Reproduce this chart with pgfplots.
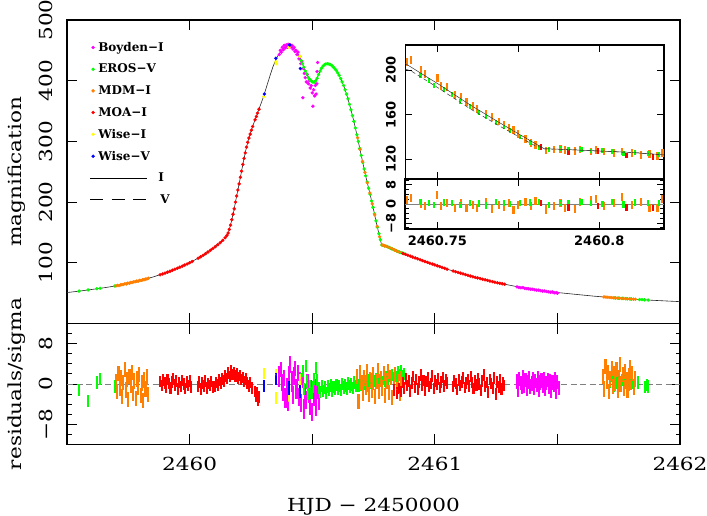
\documentclass[border=0pt]{standalone}
\usepackage{fontspec}
\setmainfont{DejaVu Serif}[FakeStretch=1.2]
\newfontfamily\legfont{DejaVu Serif}
\newfontfamily\insfont{DejaVu Sans}
\usepackage{pgfplots}
\usepackage{pgfplotstable}
\pgfplotsset{compat=1.18}

\definecolor{cmag}{RGB}{255,0,255}
\definecolor{cgrn}{RGB}{0,255,0}
\definecolor{corg}{RGB}{255,127,0}
\definecolor{cred}{RGB}{255,0,0}
\definecolor{cyel}{RGB}{255,255,0}
\definecolor{cblu}{RGB}{0,0,255}

\newcommand\tickfont{\fontsize{18bp}{21bp}\selectfont}
\newcommand\legf{\legfont\bfseries\fontsize{12bp}{14bp}\selectfont}
\newcommand\insf{\insfont\bfseries\fontsize{13bp}{15bp}\selectfont}

% x column = HJD - 2452460 (ticks relabelled as HJD - 2450000)
% ---------- model curves ----------
\pgfplotstableread{
d A
-0.50 51.0
-0.45 53.3
-0.40 56.0
-0.35 58.8
-0.30 62.0
-0.25 66.3
-0.20 71.0
-0.15 76.5
-0.10 83.0
-0.05 91.0
0.00 100.0
0.05 111.0
0.10 125.0
0.12 131.5
0.14 139.0
0.15 143.5
0.155 146
0.16 152
0.17 167
0.18 185
0.19 206
0.20 226
0.21 247
0.22 268
0.23 287
0.24 303
0.25 316
0.26 328
0.27 339
0.28 350
0.29 361
0.30 372
0.31 385
0.32 398
0.33 411
0.34 423
0.35 433
0.36 441
0.37 447
0.38 452
0.39 455.5
0.40 457
0.41 457.5
0.42 456
0.43 452
0.44 446
0.45 438
0.46 428
0.47 418
0.48 409
0.49 402
0.50 398
0.51 398
0.52 404
0.53 414
0.54 422
0.55 426.5
0.56 428
0.57 427.5
0.58 425
0.59 421
0.60 416
0.61 409
0.62 400
0.63 390
0.64 378
0.65 364
0.66 349
0.67 333
0.68 315
0.69 296
0.70 277
0.71 258
0.72 240
0.73 223
0.74 206
0.75 188
0.76 169
0.77 151.5
0.78 134.5
0.783 129.5
0.79 128.8
0.80 127.5
0.81 126.2
0.82 124
0.85 118.5
0.90 111
0.95 103.5
1.00 96.5
1.05 89.5
1.10 83.5
1.15 77.5
1.20 72.5
1.25 67.5
1.30 63.5
1.35 59.5
1.40 56.3
1.45 53.5
1.50 51
1.55 49
1.60 47
1.65 45
1.70 43.3
1.75 41.8
1.80 40.4
1.85 39.1
1.90 38
1.95 37
2.00 36
}\modelI
\pgfplotstableread{
d A
0.738 203
0.742 199
0.750 184.5
0.760 165.5
0.770 148.5
0.780 132.5
0.783 129.5
0.790 128.8
0.800 127.5
0.810 126.2
0.820 124
}\modelV

% ---------- light curve points ----------
\pgfplotstableread{
d A
0.366 443
0.370 450
0.374 447
0.378 455
0.382 451
0.386 458
0.390 454
0.394 459
0.398 455
0.402 460
0.406 456
0.410 459
0.414 455
0.418 458
0.422 452
0.426 455
0.430 448
0.434 450
0.438 443
0.442 447
0.446 436
0.450 440
0.454 428
0.458 432
0.462 372
0.464 420
0.468 412
0.472 405
0.476 398
0.480 410
0.484 395
0.488 400
0.492 388
0.496 392
0.500 380
0.503 358
0.506 385
0.510 375
0.513 392
0.516 378
0.519 395
0.520 415
0.522 430
1.335 60.3
1.343 59.5
1.351 58.8
1.359 59.2
1.367 58.0
1.375 57.6
1.383 57.2
1.391 56.5
1.399 56.4
1.407 55.6
1.415 55.0
1.423 54.9
1.431 54.2
1.439 53.5
1.447 53.6
1.455 52.8
1.463 52.2
1.471 51.5
1.479 51.9
1.487 50.6
1.495 50.8
1.500 50.0
}\boydenA
\pgfplotstableread{
d A
-0.451 53.5
-0.414 55.3
-0.378 57.3
-0.365 58.0
-0.305 61.8
0.455 433
0.460 428
0.466 422
0.472 416
0.478 411
0.484 405
0.490 402
0.496 399.5
0.502 398
0.508 397.5
0.514 400
0.520 404
0.526 410
0.532 416
0.538 420.5
0.544 424
0.550 426.5
0.556 427.5
0.562 428
0.568 427.6
0.574 426.5
0.580 425
0.586 422.5
0.592 420
0.598 417
0.604 413
0.610 409
0.616 403.5
0.622 398
0.628 392
0.634 385
0.640 378
0.646 370
0.652 361
0.658 352
0.664 342.5
0.670 333
0.676 322
0.682 311
0.688 300
0.694 288.5
0.700 277
0.706 265.5
0.712 254.5
0.718 243.5
0.724 233
0.730 223
0.736 213
0.742 202
0.748 191.5
0.754 180.5
0.760 169
0.766 158.5
0.772 148
0.778 138
0.784 129.4
0.790 128.8
0.796 128
0.802 127.2
0.808 126.3
0.814 125.2
0.820 124
0.826 122.9
0.832 121.8
0.838 120.7
0.844 119.6
0.850 118.5
0.856 117.6
0.862 116.7
0.868 115.8
0.874 114.9
1.735 42.1
1.750 41.8
1.765 41.4
1.780 40.9
1.800 40.4
1.835 39.5
1.845 39.2
1.855 39.0
1.870 38.6
}\erosA
\pgfplotstableread{
d A
-0.300 62.0
-0.294 62.8
-0.288 62.5
-0.282 63.6
-0.276 64.0
-0.270 64.3
-0.264 65.4
-0.258 65.2
-0.252 66.5
-0.246 66.4
-0.240 67.5
-0.234 67.6
-0.228 68.6
-0.222 68.7
-0.216 69.8
-0.210 69.6
-0.204 71.0
-0.198 70.9
-0.192 72.0
-0.186 72.1
-0.180 73.2
-0.174 73.4
-0.168 74.6
0.685 306
0.695 287
0.705 267
0.715 249
0.725 232
0.735 215
0.745 197
0.755 179
0.765 160
0.775 143
0.785 129.3
0.795 128
0.805 127
0.815 125
0.825 123
0.835 121
0.845 119.5
0.855 117.5
1.690 43.7
1.698 43.4
1.706 43.2
1.714 42.8
1.722 42.6
1.730 42.3
1.738 42.0
1.746 41.9
1.754 41.6
1.762 41.3
1.770 41.2
1.778 40.9
1.786 40.7
1.794 40.5
1.802 40.3
1.810 40.1
1.818 40.0
}\mdmA
\pgfplotstableread{
d A
-0.12 80.3
-0.11 81.6
-0.10 83.0
-0.09 84.5
-0.08 86.1
-0.07 87.8
-0.06 89.4
-0.05 91.0
-0.04 92.7
-0.03 94.5
-0.02 96.3
-0.01 98.1
0.00 100.0
0.01 102.1
0.035 107.5
0.045 109.8
0.055 112.3
0.065 115.0
0.075 117.8
0.085 120.7
0.095 123.6
0.105 126.6
0.115 129.8
0.125 133.3
0.135 137.0
0.145 141.2
0.152 145
0.157 149
0.162 155
0.167 162
0.172 171
0.177 180
0.182 189
0.187 200
0.192 210
0.197 220
0.202 230
0.207 241
0.212 251
0.217 262
0.222 272
0.227 281
0.232 290.5
0.237 298.5
0.242 305.5
0.247 312
0.252 318.5
0.257 324.5
0.267 335.5
0.272 341
0.277 346.5
0.283 353
0.87 115.5
0.88 114
0.89 112.5
0.90 111
0.91 109.5
0.92 108
0.93 106.5
0.94 105
0.95 103.5
0.96 102.1
0.97 100.7
0.98 99.3
0.99 97.9
1.00 96.5
1.01 95.1
1.02 93.7
1.03 92.3
1.04 90.9
1.05 89.5
1.075 86.5
1.085 85.3
1.095 84.1
1.105 82.9
1.115 81.7
1.125 80.5
1.135 79.3
1.145 78.1
1.155 77.0
1.165 76.0
1.175 75.0
1.185 74.0
1.195 73.0
1.205 72.0
1.215 71.0
1.225 70.0
1.235 69.0
1.245 68.0
1.255 67.1
1.265 66.3
1.275 65.5
1.285 64.7
}\moaA
\pgfplotstableread{
d A
0.303 374
0.352 431
0.354 428
0.405 455
0.450 440
}\wiseIA
\pgfplotstableread{
d A
0.305 378
0.352 437
0.408 459
0.452 420
}\wiseVA

% ---------- residuals / sigma ----------
\pgfplotstableread{
d r e
0.366 1.5 2.0
0.371 2.8 1.5
0.376 0.3 1.6
0.381 -1.5 1.8
0.386 1.2 1.6
0.391 -2.8 2.0
0.396 -0.6 1.7
0.401 -3.5 1.8
0.406 2.0 1.6
0.411 3.8 1.7
0.416 0.5 2.0
0.421 -2.2 1.8
0.426 1.6 1.7
0.431 3.0 1.5
0.436 -1.0 2.0
0.441 2.2 1.6
0.446 -2.5 1.8
0.451 0.8 1.6
0.456 -3.8 1.8
0.461 1.0 1.7
0.466 -5.0 2.0
0.471 -1.8 1.6
0.476 -3.2 1.8
0.481 0.5 1.5
0.486 -2.0 1.8
0.491 -4.2 1.9
0.496 -1.0 1.7
0.501 -5.5 1.8
0.506 -2.8 1.6
0.511 -0.8 1.7
0.516 -4.5 1.9
0.521 -1.5 1.5
0.526 -3.5 1.7
1.335 0.5 1.4
1.340 -1.2 1.4
1.345 1.0 1.4
1.350 0.2 1.4
1.355 -0.6 1.4
1.360 1.4 1.4
1.365 -0.3 1.4
1.370 0.8 1.4
1.375 -1.0 1.4
1.380 0.4 1.4
1.385 1.2 1.4
1.390 -0.5 1.4
1.395 0.1 1.4
1.400 0.9 1.4
1.405 -0.8 1.4
1.410 0.6 1.4
1.415 -0.2 1.4
1.420 1.1 1.4
1.425 -1.1 1.4
1.430 0.3 1.4
1.435 0.7 1.4
1.440 -0.4 1.4
1.445 1.0 1.4
1.450 -0.9 1.4
1.455 0.2 1.4
1.460 0.8 1.4
1.465 -0.6 1.4
1.470 0.5 1.4
1.475 -1.4 1.4
1.480 0.3 1.4
1.485 -0.2 1.4
1.490 0.9 1.4
1.495 -1.6 1.4
1.500 0.4 1.4
1.505 -0.8 1.4
}\boydenR
\pgfplotstableread{
d r
-0.451 -1.2
-0.415 -3.4
-0.378 0.3
-0.365 1.0
-0.305 -0.5
0.455 1.0
0.461 2.5
0.467 -1.0
0.473 3.5
0.479 0.5
0.485 -2.0
0.491 -0.5
0.497 -1.8
0.503 -0.6
0.509 1.0
0.515 3.2
0.521 0.8
0.527 -0.8
0.533 -1.6
0.539 -0.4
0.545 -1.3
0.551 -0.7
0.557 -1.8
0.563 -0.5
0.569 -1.1
0.575 -0.3
0.581 -1.4
0.587 -0.6
0.593 -1.0
0.599 -0.2
0.605 -0.9
0.611 -0.4
0.617 -1.2
0.623 0.0
0.629 -0.7
0.635 -0.3
0.641 -0.9
0.647 0.1
0.653 -0.5
0.659 -0.1
0.665 -0.8
0.671 0.3
0.677 -0.4
0.683 0.2
0.689 -0.3
0.695 0.4
0.701 -0.2
0.707 0.6
0.713 0.0
0.719 0.5
0.725 -0.3
0.731 0.7
0.737 0.2
0.743 0.9
0.749 0.1
0.755 0.6
0.761 1.0
0.767 0.3
0.773 0.8
0.779 1.2
0.785 0.4
0.791 1.1
0.797 0.6
0.803 1.4
0.809 0.9
0.815 1.6
0.821 1.0
0.827 1.8
0.833 1.2
0.839 2.0
0.845 1.4
0.851 2.3
0.857 1.7
0.863 2.5
0.869 1.5
0.875 1.9
1.715 0.5
1.722 1.6
1.729 -0.3
1.736 1.0
1.743 0.2
1.750 1.4
1.757 -0.4
1.764 0.8
1.771 1.7
1.778 0.3
1.785 1.1
1.792 -0.2
1.799 0.9
1.806 0.2
1.829 0.3
1.857 -0.6
1.864 -0.2
1.871 -0.5
}\erosR
\pgfplotstableread{
d r
-0.300 0.5
-0.295 -1.5
-0.290 2.0
-0.285 -0.8
-0.280 1.2
-0.275 -2.5
-0.270 0.3
-0.265 2.8
-0.260 -1.2
-0.255 0.9
-0.250 -3.0
-0.245 1.5
-0.240 -0.3
-0.235 2.2
-0.230 -1.8
-0.225 0.6
-0.220 -2.8
-0.215 1.0
-0.210 -0.6
-0.205 1.8
-0.200 -2.2
-0.195 0.2
-0.190 -3.3
-0.185 0.8
-0.180 -1.0
-0.175 1.4
-0.170 -2.0
0.683 1.5
0.689 -3.5
0.695 2.2
0.701 0.3
0.707 -1.8
0.713 1.2
0.719 -0.6
0.725 2.5
0.731 -2.0
0.737 0.8
0.743 -1.2
0.749 1.8
0.755 -2.4
0.761 0.5
0.767 2.6
0.773 -1.5
0.779 1.0
0.785 -0.8
0.791 2.0
0.797 -2.2
0.803 0.6
0.809 2.4
0.815 -1.6
0.821 1.3
0.827 -2.6
0.833 0.9
0.839 1.9
0.845 -1.1
0.851 0.4
0.857 -1.9
0.863 1.1
1.686 1.5
1.691 -1.0
1.696 3.5
1.701 0.5
1.706 2.2
1.711 -1.5
1.716 1.0
1.721 3.0
1.726 -0.5
1.731 2.0
1.736 0.2
1.741 2.8
1.746 -1.2
1.751 1.2
1.756 3.8
1.761 0.0
1.766 1.8
1.771 -0.8
1.776 2.5
1.781 0.8
1.786 -1.3
1.791 1.6
1.796 3.2
1.801 0.4
1.806 2.0
1.811 -0.6
1.816 1.0
}\mdmR
\pgfplotstableread{
d r
-0.120 0.5
-0.114 -0.3
-0.108 0.8
-0.102 0.2
-0.096 -0.6
-0.090 0.9
-0.084 0.1
-0.078 -0.8
-0.072 0.4
-0.066 1.0
-0.060 -0.2
-0.054 0.6
-0.048 -1.0
-0.042 0.3
-0.036 -0.5
-0.030 0.7
-0.024 0.0
-0.018 -0.9
-0.012 0.4
-0.006 -0.3
0.000 0.6
0.006 -0.6
0.034 -0.5
0.040 0.4
0.046 -1.0
0.052 0.2
0.058 -0.4
0.064 0.6
0.070 -0.8
0.076 0.1
0.082 -0.3
0.088 0.5
0.094 -0.6
0.103 -0.5
0.109 0.3
0.115 -0.2
0.121 0.8
0.127 0.2
0.133 1.0
0.139 0.6
0.145 1.6
0.151 1.1
0.157 2.2
0.163 1.5
0.169 2.6
0.175 1.9
0.181 2.3
0.187 1.6
0.193 2.0
0.199 1.2
0.205 1.7
0.211 0.9
0.217 1.3
0.223 0.5
0.229 1.0
0.235 0.2
0.241 -0.4
0.247 0.3
0.253 -0.8
0.267 -1.5
0.271 -2.4
0.275 -1.8
0.279 -3.2
0.283 -2.6
0.835 -1.2
0.845 -1.8
0.855 -0.9
0.862 -1.5
0.870 0.3
0.876 -0.8
0.882 1.1
0.888 -0.3
0.894 0.6
0.900 -1.4
0.906 0.2
0.912 1.5
0.918 -0.6
0.924 0.9
0.930 -1.0
0.936 0.4
0.942 1.8
0.948 -0.2
0.954 0.7
0.960 -1.2
0.966 0.5
0.972 1.2
0.978 -0.5
0.984 0.1
0.990 1.6
0.996 -0.9
1.002 0.6
1.008 -0.1
1.014 1.0
1.020 -0.7
1.026 0.4
1.032 1.3
1.038 -0.4
1.044 0.8
1.050 0.2
1.074 -0.5
1.080 0.6
1.086 0.1
1.092 -1.1
1.098 0.8
1.104 -0.3
1.110 0.4
1.116 1.2
1.122 -0.7
1.128 0.2
1.134 0.9
1.140 -0.4
1.146 1.5
1.152 0.3
1.158 -0.9
1.164 0.7
1.170 -0.2
1.176 1.1
1.182 0.0
1.188 -1.3
1.194 0.6
1.200 1.8
1.206 -0.5
1.212 0.3
1.218 -1.6
1.224 0.9
1.230 0.1
1.236 -0.8
1.242 1.2
1.248 -2.0
1.254 0.4
1.260 -0.6
1.266 0.8
1.272 -1.0
1.278 0.2
1.284 -0.3
}\moaR
\pgfplotstableread{
d r e
0.303 2.0 1.1
0.352 1.8 1.2
0.354 -2.8 1.2
0.405 -2.6 0.9
0.450 0.8 1.2
}\wiseIR
\pgfplotstableread{
d r e
0.305 -0.4 1.15
0.352 1.0 1.2
0.405 -0.8 1.4
0.450 -1.5 1.3
}\wiseVR

% ---------- inset (zoom on caustic exit) ----------
\pgfplotstableread{
d A e r
0.7405 207.5 3.5 1.5
0.7418 209 3.5 2.5
0.7450 200 3.5 0.0
0.7462 196.5 3.5 -1.0
0.7500 193 3.8 3.8
0.7512 186 3.5 -0.8
0.7530 184.5 3.5 0.5
0.7555 178 3.5 -1.5
0.7572 176 3.5 0.2
0.7590 171.5 3.5 -1.8
0.7610 167.5 3.5 -0.5
0.7622 165 3.5 -1.5
0.7650 161 3.5 1.0
0.7668 158 3.5 -2.0
0.7690 154 3.5 -0.5
0.7705 151 3.5 -1.2
0.7722 148.5 3.5 0.6
0.7735 146 3.5 -2.5
0.7750 142.5 3.5 -0.5
0.7772 138.5 3.5 0.8
0.7790 135 3.5 -1.0
0.7803 133 3.5 1.2
0.7835 128 3.5 -2.3
0.7860 128.8 3.5 -0.8
0.7880 129.5 3.5 0.5
0.7895 128.5 3.5 -1.5
0.7925 127.5 3.5 -2.0
0.7940 128.8 3.5 0.8
0.7975 127 3.5 1.5
0.7990 128.5 3.5 2.2
0.8015 127 3.5 -1.0
0.8045 126 3.5 0.6
0.8070 127 3.5 2.8
0.8100 126 3.5 -0.5
0.8130 124 3.5 1.0
0.8155 125 3.5 -1.8
0.8180 123 3.5 -1.5
0.8195 125.5 3.5 2.0
}\mdmZ
\pgfplotstableread{
d A r
0.7448 195.5 0.8
0.7475 191 0.5
0.7490 186 -0.5
0.7520 182.5 0.6
0.7545 178 0.3
0.7570 172 -0.4
0.7600 167 0.5
0.7628 162 0.2
0.7650 158.5 -0.6
0.7680 153 0.7
0.7705 149 0.3
0.7725 145.5 0.0
0.7755 140 0.4
0.7785 135 0.6
0.7815 131 0.8
0.7845 129 -0.3
0.7878 129.5 0.5
0.7905 128.5 0.2
0.7945 129 1.0
0.7975 127.5 0.4
0.8010 128 0.0
0.8040 127 0.9
0.8075 125.5 -0.2
0.8110 126.5 0.6
0.8150 125 0.3
0.8185 124 0.5
}\erosZ
\pgfplotstableread{
d A r
0.7820 131 0.5
0.7905 126 -1.5
0.7997 127.5 -1.0
0.8084 123.5 -1.5
0.8167 122 -1.8
}\moaZ

\pgfplotsset{
  frame/.style={scale only axis, anchor=south west,
    axis line style={line width=1.1bp}, tick align=inside,
    every tick/.style={black, line width=0.9bp},
    /pgf/number format/assume math mode=true},
  big/.style={frame, width=613bp, xmin=-0.5, xmax=2,
    major tick length=10bp, minor tick length=4.5bp,
    tick label style={font=\tickfont}, label style={font=\tickfont},
    yticklabel style={rotate=90, anchor=south, inner sep=0pt},
    yticklabel shift=14bp},
  dots/.style={only marks, mark=*, mark size=1.5bp, forget plot, #1, mark options={draw=#1, fill=#1}},
  bars/.style={only marks, mark=*, mark size=0.2bp, forget plot, #1,
    error bars/.cd, y dir=both, y explicit, error mark=none,
    error bar style={line width=2.1bp, #1}},
  zbars/.style={only marks, mark=*, mark size=0.3bp, forget plot, #1,
    error bars/.cd, y dir=both, y explicit, error mark=none,
    error bar style={line width=2.2bp, #1}},
  small/.style={frame, width=259bp, xmin=0.74, xmax=0.82,
    major tick length=7bp, minor tick length=3.5bp,
    axis background/.style={fill=white},
    tick label style={font=\insf},
    yticklabel style={rotate=90, anchor=south, inner sep=0pt},
    yticklabel shift=9bp,
    xtick={0.75,0.775,0.8}},
}

\begin{document}
\begin{tikzpicture}
\useasboundingbox (0,0) rectangle (707bp,516bp);

% main light curve
\begin{axis}[big, at={(67bp,192.5bp)}, height=303.5bp,
  ymin=0, ymax=500,
  xtick={0,0.5,1,1.5}, xticklabels={},
  ytick={100,200,300,400,500}, yticklabels={100,200,300,400,500},
  ylabel={magnification},
  ylabel style={at={(axis description cs:-0.0816,0.5)}, anchor=center},
  legend style={at={(axis description cs:0.0395,0.931)}, anchor=north west,
    draw=none, fill=none, inner sep=0pt, font=\legf, row sep=9.3bp,
    nodes={inner sep=1bp},
    /tikz/every odd column/.append style={column sep=2.5bp}},
  legend cell align=left]
\addplot[dots=cmag] table[x=d, y=A] {\boydenA};
\addplot[dots=cgrn] table[x=d, y=A] {\erosA};
\addplot[dots=corg] table[x=d, y=A] {\mdmA};
\addplot[dots=cred] table[x=d, y=A] {\moaA};
\addplot[dots=cyel] table[x=d, y=A] {\wiseIA};
\addplot[dots=cblu] table[x=d, y=A] {\wiseVA};
\addplot[black!85, line width=0.6bp, forget plot] table[x=d, y=A] {\modelI};
\addlegendimage{legend image code/.code={\fill[cmag] (0,0) circle (1.5bp);}}
\addlegendentry{Boyden−I}
\addlegendimage{legend image code/.code={\fill[cgrn] (0,0) circle (1.5bp);}}
\addlegendentry{EROS−V}
\addlegendimage{legend image code/.code={\fill[corg] (0,0) circle (1.5bp);}}
\addlegendentry{MDM−I}
\addlegendimage{legend image code/.code={\fill[cred] (0,0) circle (1.5bp);}}
\addlegendentry{MOA−I}
\addlegendimage{legend image code/.code={\fill[cyel] (0,0) circle (1.5bp);}}
\addlegendentry{Wise−I}
\addlegendimage{legend image code/.code={\fill[cblu] (0,0) circle (1.5bp);}}
\addlegendentry{Wise−V}
\addlegendimage{legend image code/.code={\draw[overlay, line width=0.7bp] (-3bp,0) -- (54bp,0);}}
\addlegendentry{\hspace{60bp}I}
\addlegendimage{legend image code/.code={\draw[overlay, line width=0.7bp, dash pattern=on 13bp off 8.5bp] (-3bp,0) -- (54bp,0);}}
\addlegendentry{\hspace{62bp}V}
\end{axis}

% residuals
\begin{axis}[big, at={(67bp,71.5bp)}, height=121bp,
  ymin=-12, ymax=12,
  xtick={0,0.5,1,1.5,2}, xticklabels={2460,,2461,,2462},
  xticklabel style={anchor=north, inner sep=0pt}, xticklabel shift=12.5bp,
  ytick={-8,0,8}, yticklabels={−8,0,8},
  minor ytick={-12,-10,...,12},
  xlabel={HJD − 2450000},
  xlabel style={at={(axis description cs:0.5,-0.51)}, anchor=center},
  ylabel={residuals/sigma},
  ylabel style={at={(axis description cs:-0.0816,0.5)}, anchor=center}]
\addplot[gray, line width=0.6bp, dash pattern=on 6bp off 3.5bp, forget plot] coordinates {(-0.5,0) (2,0)};
\addplot[bars=cmag] table[x=d, y=r, y error=e] {\boydenR};
\addplot[bars=cgrn] table[x=d, y=r, y error expr=1.2] {\erosR};
\addplot[bars=corg] table[x=d, y=r, y error expr=1.5] {\mdmR};
\addplot[bars=cred] table[x=d, y=r, y error expr=1.15] {\moaR};
\addplot[bars=cyel] table[x=d, y=r, y error=e] {\wiseIR};
\addplot[bars=cblu] table[x=d, y=r, y error=e] {\wiseVR};
\end{axis}

% inset: light curve
\begin{axis}[small, at={(405bp,337bp)}, height=134bp,
  ymin=102.4, ymax=222.5, xticklabels={},
  ytick={120,160,200}, yticklabels={120,160,200}]
\addplot[zbars=corg] table[x=d, y=A, y error=e] {\mdmZ};
\addplot[zbars=cgrn] table[x=d, y=A, y error expr=2.2] {\erosZ};
\addplot[zbars=cred] table[x=d, y=A, y error expr=2.5] {\moaZ};
\addplot[black!80, line width=0.5bp, forget plot] table[x=d, y=A] {\modelI};
\addplot[black!80, line width=0.5bp, dash pattern=on 4bp off 3bp, forget plot] table[x=d, y=A] {\modelV};
\end{axis}

% inset: residuals
\begin{axis}[small, at={(405bp,287bp)}, height=50bp,
  ymin=-10.5, ymax=10.5,
  xticklabels={2460.75,,2460.8},
  xticklabel style={anchor=north, inner sep=0pt}, xticklabel shift=7bp,
  ytick={-8,0,8}, yticklabels={−8,0,8}, minor ytick={-10,-8,...,10}]
\addplot[gray, line width=0.5bp, forget plot] coordinates {(0.74,0) (0.82,0)};
\addplot[zbars=corg] table[x=d, y=r, y error expr=1.7] {\mdmZ};
\addplot[zbars=cgrn] table[x=d, y=r, y error expr=1.3] {\erosZ};
\addplot[zbars=cred] table[x=d, y=r, y error expr=1.3] {\moaZ};
\end{axis}
\end{tikzpicture}
\end{document}
